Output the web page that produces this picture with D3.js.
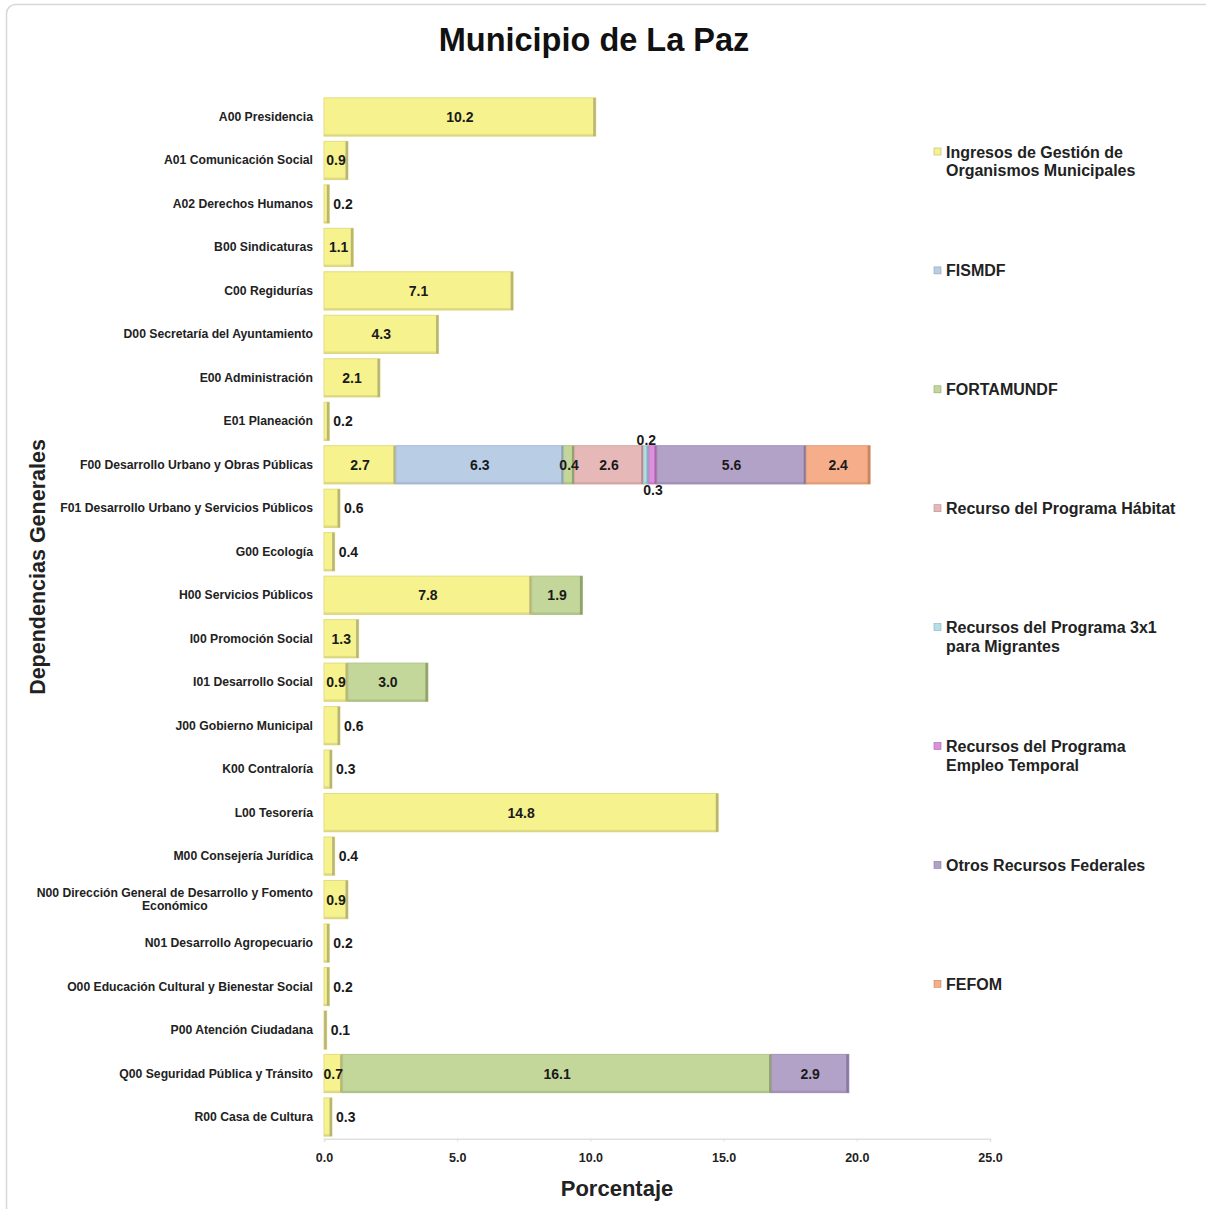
<!DOCTYPE html>
<html>
<head>
<meta charset="utf-8">
<script src="https://cdn.jsdelivr.net/npm/d3@7"></script>
<style>
  body { margin: 0; background: #fff; }
  text { font-family: "Liberation Sans", Arial, sans-serif; }
</style>
</head>
<body>
<svg id="chart" width="1206" height="1209"></svg>
<script>
// categories (dependencias)
const categories = [
  "A00 Presidencia", "A01 Comunicación Social", "A02 Derechos Humanos", "B00 Sindicaturas",
  "C00 Regidurías", "D00 Secretaría del Ayuntamiento", "E00 Administración", "E01 Planeación",
  "F00 Desarrollo Urbano y Obras Públicas", "F01 Desarrollo Urbano y Servicios Públicos",
  "G00 Ecología", "H00 Servicios Públicos", "I00 Promoción Social", "I01 Desarrollo Social",
  "J00 Gobierno Municipal", "K00 Contraloría", "L00 Tesorería", "M00 Consejería Jurídica",
  "N00 Dirección General de Desarrollo y Fomento Económico", "N01 Desarrollo Agropecuario",
  "O00 Educación Cultural y Bienestar Social", "P00 Atención Ciudadana",
  "Q00 Seguridad Pública y Tránsito", "R00 Casa de Cultura"
];

const seriesNames = [
  "Ingresos de Gestión de Organismos Municipales", "FISMDF", "FORTAMUNDF",
  "Recurso del Programa Hábitat", "Recursos del Programa 3x1 para Migrantes",
  "Recursos del Programa Empleo Temporal", "Otros Recursos Federales", "FEFOM"
];

// one value per category, in percent
const ingresos   = [10.2, 0.9, 0.2, 1.1, 7.1, 4.3, 2.1, 0.2, 2.7, 0.6, 0.4, 7.8, 1.3, 0.9, 0.6, 0.3, 14.8, 0.4, 0.9, 0.2, 0.2, 0.1, 0.7, 0.3];
const fismdf     = [0, 0, 0, 0, 0, 0, 0, 0, 6.3, 0, 0, 0, 0, 0, 0, 0, 0, 0, 0, 0, 0, 0, 0, 0];
const fortamundf = [0, 0, 0, 0, 0, 0, 0, 0, 0.4, 0, 0, 1.9, 0, 3.0, 0, 0, 0, 0, 0, 0, 0, 0, 16.1, 0];
const habitat    = [0, 0, 0, 0, 0, 0, 0, 0, 2.6, 0, 0, 0, 0, 0, 0, 0, 0, 0, 0, 0, 0, 0, 0, 0];
const prog3x1    = [0, 0, 0, 0, 0, 0, 0, 0, 0.2, 0, 0, 0, 0, 0, 0, 0, 0, 0, 0, 0, 0, 0, 0, 0];
const empleoTemp = [0, 0, 0, 0, 0, 0, 0, 0, 0.3, 0, 0, 0, 0, 0, 0, 0, 0, 0, 0, 0, 0, 0, 0, 0];
const otros      = [0, 0, 0, 0, 0, 0, 0, 0, 5.6, 0, 0, 0, 0, 0, 0, 0, 0, 0, 0, 0, 0, 0, 2.9, 0];
const fefom      = [0, 0, 0, 0, 0, 0, 0, 0, 2.4, 0, 0, 0, 0, 0, 0, 0, 0, 0, 0, 0, 0, 0, 0, 0];

const xTicks = [0, 5, 10, 15, 20, 25];

const allSeries = [ingresos, fismdf, fortamundf, habitat, prog3x1, empleoTemp, otros, fefom];
const fills = ["#F6F28D", "#B9CDE5", "#C4D79B", "#E6B9B8", "#B7DEE8", "#DC8FDC", "#B3A2C7", "#F6AE8A"];
const edges = ["#B9B576", "#8FA2BC", "#8FA36B", "#B98C8B", "#86B1BD", "#A865A8", "#8878A0", "#C7875F"];

const svg = d3.select("#chart");

// faint frame around the picture
svg.append("rect")
  .attr("x", 6.5).attr("y", 4.5)
  .attr("width", 1220).attr("height", 1220)
  .attr("rx", 9)
  .attr("fill", "#fff")
  .attr("stroke", "#d8d8d4")
  .attr("stroke-width", 1.5);

const x = d3.scaleLinear().domain([0, 25]).range([324, 990]);
const y = d3.scaleBand().domain(categories).range([95.26, 1138.74])
  .paddingInner(0.12).paddingOuter(0.06);

// title
svg.append("text")
  .attr("x", 594).attr("y", 51)
  .attr("text-anchor", "middle")
  .style("font-size", "32.5px").style("font-weight", "bold").style("fill", "#111")
  .text("Municipio de La Paz");

// x axis
const xAxis = svg.append("g")
  .attr("transform", "translate(0," + 1138.74 + ")")
  .call(d3.axisBottom(x).tickValues(xTicks).tickFormat(d3.format(".1f")).tickSize(3).tickPadding(11));
xAxis.select(".domain").attr("stroke", "#e0e0e0").attr("stroke-width", 1.5);
xAxis.selectAll(".tick line").attr("stroke", "#e0e0e0");
xAxis.selectAll(".tick text")
  .style("font-family", "'Liberation Sans', Arial, sans-serif")
  .style("font-size", "12.5px").style("font-weight", "bold").style("fill", "#222");

svg.append("text")
  .attr("x", 617).attr("y", 1196)
  .attr("text-anchor", "middle")
  .style("font-size", "22px").style("font-weight", "bold").style("fill", "#222")
  .text("Porcentaje");

svg.append("text")
  .attr("transform", "translate(45,567) rotate(-90)")
  .attr("text-anchor", "middle")
  .style("font-size", "21.5px").style("font-weight", "bold").style("fill", "#222")
  .text("Dependencias Generales");

// category labels, wrapped when too long
const labelG = svg.append("g");
categories.forEach(function (name) {
  const cy = y(name) + y.bandwidth() / 2;
  const t = labelG.append("text")
    .attr("x", 313).attr("y", cy + 4)
    .attr("text-anchor", "end")
    .style("font-size", "12.2px").style("font-weight", "bold").style("fill", "#222")
    .text(name);
  if (t.node().getComputedTextLength() > 290) {
    const words = name.split(" ");
    let line1 = [], rest = [];
    for (const w of words) {
      t.text(line1.concat(w).join(" "));
      if (rest.length === 0 && t.node().getComputedTextLength() <= 290) line1.push(w);
      else rest.push(w);
    }
    t.text(line1.join(" ")).attr("y", cy - 3);
    const w1 = t.node().getComputedTextLength();
    labelG.append("text")
      .attr("x", 313 - w1 / 2).attr("y", cy + 10)
      .attr("text-anchor", "middle")
      .style("font-size", "12.2px").style("font-weight", "bold").style("fill", "#222")
      .text(rest.join(" "));
  }
});

// stacked segments
const segments = [];
categories.forEach(function (name, i) {
  let start = 0;
  const row = [];
  allSeries.forEach(function (s, k) {
    if (s[i] > 0) {
      row.push({ cat: name, k: k, x0: start, x1: start + s[i], v: s[i] });
      start += s[i];
    }
  });
  row.forEach(function (d) { d.n = row.length; });
  segments.push(...row);
});

const barG = svg.append("g");
segments.forEach(function (d) {
  const bx = x(d.x0), bw = x(d.x1) - x(d.x0), by = y(d.cat), bh = y.bandwidth();
  barG.append("rect")
    .attr("x", bx).attr("y", by).attr("width", bw).attr("height", bh)
    .attr("fill", fills[d.k])
    .attr("stroke", d3.color(fills[d.k]).darker(0.25)).attr("stroke-width", 1);
  barG.append("rect")
    .attr("x", bx + bw - 2.5).attr("y", by).attr("width", 2.5).attr("height", bh)
    .attr("fill", edges[d.k]);
  barG.append("rect")
    .attr("x", bx).attr("y", by + bh - 2).attr("width", bw).attr("height", 2)
    .attr("fill", edges[d.k]).attr("opacity", 0.35);
});

// value labels
let flip = 0;
segments.forEach(function (d) {
  const cy = y(d.cat) + y.bandwidth() / 2;
  let tx = x((d.x0 + d.x1) / 2), ty = cy + 5, anchor = "middle";
  if (d.n === 1 && d.v < 0.9) {
    tx = x(d.x1) + 4; anchor = "start";
  } else if (d.n > 1 && d.v < 0.4) {
    ty = flip % 2 === 0 ? y(d.cat) - 1 : y(d.cat) + y.bandwidth() + 11;
    flip++;
  }
  svg.append("text")
    .attr("x", tx).attr("y", ty)
    .attr("text-anchor", anchor)
    .style("font-size", "14px").style("font-weight", "bold").style("fill", "#1a1a1a")
    .text(d3.format(".1f")(d.v));
});

// legend
const legendTop = 152, legendStep = 118.9;
seriesNames.forEach(function (name, k) {
  const ly = legendTop + k * legendStep;
  svg.append("rect")
    .attr("x", 934).attr("y", ly - 4).attr("width", 7).attr("height", 7)
    .attr("fill", fills[k]).attr("stroke", edges[k]).attr("stroke-width", 0.6);
  const t = svg.append("text")
    .attr("x", 946).attr("y", ly + 5.5)
    .style("font-size", "16px").style("font-weight", "bold").style("fill", "#222");
  // wrap lines that are too long for the space on the right
  const words = name.split(" ");
  let line = [], lines = [];
  const probe = svg.append("text").style("font-size", "16px").style("font-weight", "bold");
  for (const w of words) {
    probe.text(line.concat(w).join(" "));
    if (probe.node().getComputedTextLength() > 236 && line.length) { lines.push(line.join(" ")); line = [w]; }
    else line.push(w);
  }
  lines.push(line.join(" "));
  probe.remove();
  lines.forEach(function (l, j) {
    t.append("tspan").attr("x", 946).attr("dy", j === 0 ? 0 : 18.5).text(l);
  });
});
</script>
</body>
</html>
